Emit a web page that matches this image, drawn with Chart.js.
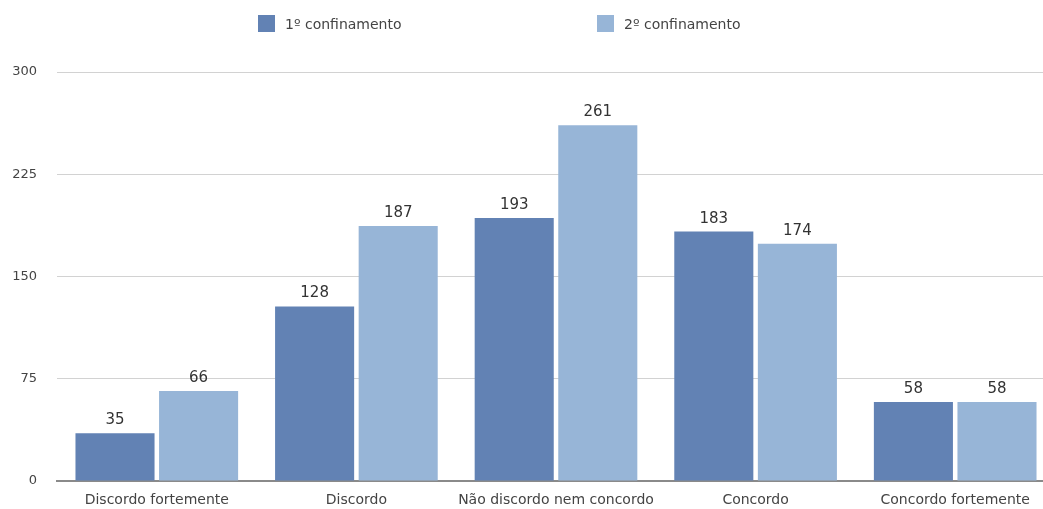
<!DOCTYPE html>
<html lang="pt">
<head>
<meta charset="utf-8">
<title>Confinamento</title>
<script src="https://cdn.jsdelivr.net/npm/chart.js@4/dist/chart.umd.min.js"></script>
<style>
    html, body {
        margin: 0;
        padding: 0;
        overflow: hidden;
        background: #fff;
        width: 1043px;
        height: 509px;
    }
    .wrap {
        position: relative;
        width: 1056px;
        height: 509px;
    }
    .legend {
        position: absolute;
        top: 15px;
        left: 0;
        font-family: "DejaVu Sans", sans-serif;
        font-size: 14px;
        color: #444;
    }
    .legend-item {
        position: absolute;
        display: flex;
        align-items: center;
        white-space: nowrap;
        height: 17px;
    }
    .legend-box {
        width: 17px;
        height: 17px;
        margin-right: 10px;
    }
</style>
</head>
<body>
<div class="wrap">
    <div class="legend" id="legend"></div>
    <canvas id="chart" width="1056" height="509"></canvas>
</div>
<script>
const categories = ['Discordo fortemente', 'Discordo', 'Não discordo nem concordo', 'Concordo', 'Concordo fortemente'];
const seriesNames = ['1º confinamento', '2º confinamento'];
const primeiro = [35, 128, 193, 183, 58];
const segundo = [66, 187, 261, 174, 58];
const yTicks = [0, 75, 150, 225, 300];

const colors = ['#6282b4', '#97b5d7'];
const legendLeft = [258, 597];

// legenda em HTML
const legendEl = document.getElementById('legend');
seriesNames.forEach((name, i) => {
    const item = document.createElement('div');
    item.className = 'legend-item';
    item.style.left = legendLeft[i] + 'px';
    const box = document.createElement('span');
    box.className = 'legend-box';
    box.style.background = colors[i];
    const text = document.createElement('span');
    text.textContent = name;
    item.appendChild(box);
    item.appendChild(text);
    legendEl.appendChild(item);
});

// valores por cima das barras
const barValues = {
    id: 'barValues',
    afterDatasetsDraw(chart) {
        const ctx = chart.ctx;
        ctx.save();
        ctx.font = '15px "DejaVu Sans", sans-serif';
        ctx.fillStyle = '#333';
        ctx.textAlign = 'center';
        ctx.textBaseline = 'alphabetic';
        chart.data.datasets.forEach((ds, di) => {
            const meta = chart.getDatasetMeta(di);
            meta.data.forEach((bar, i) => {
                ctx.fillText(String(ds.data[i]), bar.x, bar.y - 9);
            });
        });
        ctx.restore();
    }
};

new Chart(document.getElementById('chart'), {
    type: 'bar',
    data: {
        labels: categories,
        datasets: [
            {
                label: seriesNames[0],
                data: primeiro,
                backgroundColor: colors[0],
                categoryPercentage: 0.8375,
                barPercentage: 0.946,
            },
            {
                label: seriesNames[1],
                data: segundo,
                backgroundColor: colors[1],
                categoryPercentage: 0.8375,
                barPercentage: 0.946,
            },
        ],
    },
    options: {
        responsive: false,
        animation: false,
        layout: {
            padding: { top: 72, left: 12, right: 1, bottom: 0 },
        },
        plugins: {
            legend: { display: false },
            tooltip: { enabled: false },
        },
        scales: {
            x: {
                afterFit: (axis) => {
                    axis.height = 28;
                },
                grid: { display: false, drawTicks: false },
                border: { display: true, color: '#8a8a8a', width: 2 },
                ticks: {
                    color: '#444',
                    padding: 11,
                    maxRotation: 0,
                    autoSkip: false,
                    font: { family: '"DejaVu Sans", sans-serif', size: 14, lineHeight: 1.2 },
                },
            },
            y: {
                min: 0,
                max: 300,
                afterBuildTicks: (axis) => {
                    axis.ticks = yTicks.map((v) => ({ value: v }));
                },
                afterFit: (axis) => {
                    axis.width = 45;
                },
                grid: { color: '#d2d2d2', lineWidth: 1, drawTicks: false },
                border: { display: false },
                ticks: {
                    color: '#444',
                    padding: 20,
                    font: { family: '"DejaVu Sans", sans-serif', size: 13 },
                },
            },
        },
    },
    plugins: [barValues],
});
</script>
</body>
</html>
